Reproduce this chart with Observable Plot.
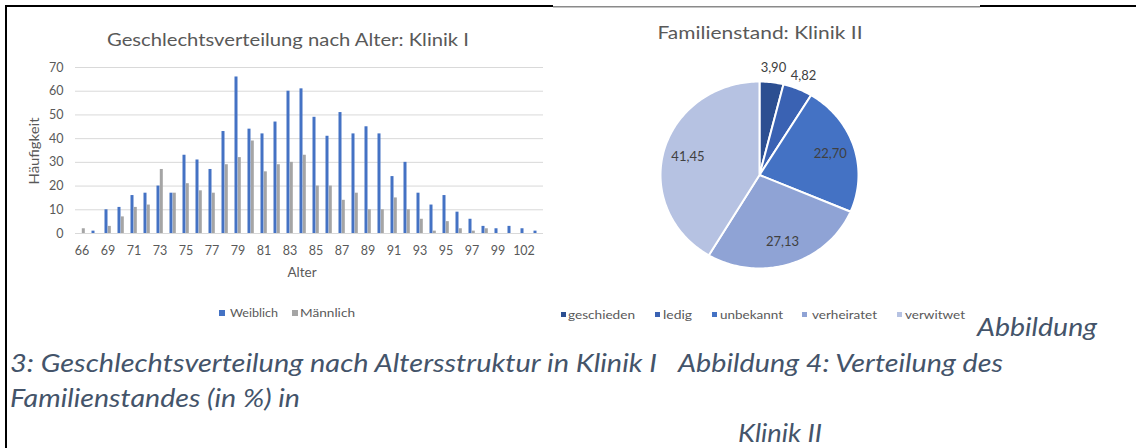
<!DOCTYPE html>
<html>
<head>
<meta charset="utf-8">
<script src="https://cdn.jsdelivr.net/npm/d3@7"></script>
<script src="https://cdn.jsdelivr.net/npm/@observablehq/plot@0.6"></script>
<style>
  html, body { margin: 0; padding: 0; background: #fff; }
  #stage { position: relative; width: 1136px; height: 448px; overflow: hidden; background: #fff; }
  #bar, #pie, #overlay { position: absolute; top: 0; }
  #bar { left: 0; }
  #pie { left: 560px; }
  #overlay { left: 0; pointer-events: none; }
</style>
</head>
<body>
<div id="stage">
  <div id="bar"></div>
  <div id="pie"></div>
  <svg id="overlay" width="1136" height="448"></svg>
</div>
<script>
// ---------- data ----------
const ages = ["66","67","69","70","71","72","73","74","75","76","77","78","79","80","81","82","83","84","85","86","87","88","89","90","91","92","93","94","95","96","97","98","99","100","102","103"];
const weiblich = [0,1,10,11,16,17,20,17,33,31,27,43,66,44,42,47,60,61,49,41,51,42,45,42,24,30,17,12,16,9,6,3,2,3,2,1];
const maennlich = [2,0,3,7,11,12,27,17,21,18,17,29,32,39,26,29,30,33,20,20,14,17,10,10,15,10,6,1,5,2,1,2,0,0,0,0];
const yTicks = [0,10,20,30,40,50,60,70];
const seriesNames = ["Weiblich","Männlich"];

const famCategories = ["geschieden","ledig","unbekannt","verheiratet","verwitwet"];
const famValues = [3.90, 4.82, 22.70, 27.13, 41.45];

// ---------- styles ----------
const barColors = ["#4472c4", "#a5a5a5"];
const famColors = ["#2c4f91", "#3a62b3", "#4472c4", "#8fa3d5", "#b6c2e2"];
const grayText = "#595959";

// ---------- bar chart ----------
const rowsW = ages.map((a, i) => ({age: a, value: weiblich[i]}));
const rowsM = ages.map((a, i) => ({age: a, value: maennlich[i]}));

const barPlot = Plot.plot({
  width: 560, height: 290,
  marginLeft: 75, marginRight: 17, marginTop: 67, marginBottom: 57,
  style: {fontFamily: "Lato", fontSize: "12.5px", color: grayText, background: "transparent", overflow: "visible"},
  x: {domain: ages, padding: 0, label: null},
  y: {domain: [0, 70], label: null},
  marks: [
    Plot.gridY(yTicks, {stroke: "#d9d9d9", strokeOpacity: 1}),
    Plot.barY(rowsW, {x: "age", y: "value", fill: barColors[0], insetLeft: 3.5, insetRight: 6.5}),
    Plot.barY(rowsM, {x: "age", y: "value", fill: barColors[1], insetLeft: 6.8, insetRight: 3.2}),
    Plot.axisX({ticks: ages.filter((d, i) => i % 2 === 0), tickSize: 0, tickPadding: 13, label: null, fill: grayText}),
    Plot.axisY({ticks: yTicks, tickSize: 0, tickPadding: 12, label: null, fill: grayText})
  ]
});
document.getElementById("bar").appendChild(barPlot);

// ---------- pie chart ----------
const arcs = d3.pie().sort(null).value(d => d)(famValues);
const wedgeMarks = arcs.map((a, i) => {
  const n = Math.max(2, Math.ceil((a.endAngle - a.startAngle) / 0.02));
  const pts = [{x: 0, y: 0}];
  for (let j = 0; j <= n; j++) {
    const t = a.startAngle + (a.endAngle - a.startAngle) * j / n;
    pts.push({x: Math.sin(t), y: Math.cos(t)});
  }
  pts.push({x: 0, y: 0});
  return Plot.line(pts, {x: "x", y: "y", fill: famColors[i], stroke: "white", strokeWidth: 2, strokeLinejoin: "round", curve: "linear"});
});
const labelRows = arcs.map((a, i) => {
  const mid = (a.startAngle + a.endAngle) / 2;
  const r = famValues[i] < 5 ? 1.15 : 0.75;
  return {x: r * Math.sin(mid), y: r * Math.cos(mid), text: famValues[i].toFixed(2).replace(".", ",")};
});

const piePlot = Plot.plot({
  width: 420, height: 300,
  marginLeft: 100, marginRight: 122, marginTop: 81, marginBottom: 32,
  style: {fontFamily: "Lato", fontSize: "12px", background: "transparent", overflow: "visible"},
  x: {domain: [-1, 1], axis: null},
  y: {domain: [-1, 1], axis: null},
  marks: [
    ...wedgeMarks,
    Plot.text(labelRows, {x: "x", y: "y", text: "text", fill: "#404040", fontSize: 13})
  ]
});
document.getElementById("pie").appendChild(piePlot);

// ---------- overlay: frame, titles, legends, captions ----------
const ov = d3.select("#overlay");
ov.append("rect").attr("x", 5).attr("y", 5).attr("width", 548).attr("height", 2).attr("fill", "#000");
ov.append("rect").attr("x", 980).attr("y", 5).attr("width", 156).attr("height", 2).attr("fill", "#000");
ov.append("rect").attr("x", 553).attr("y", 6).attr("width", 427).attr("height", 1.5).attr("fill", "#8a8a8a");
ov.append("rect").attr("x", 5).attr("y", 5).attr("width", 2).attr("height", 443).attr("fill", "#000");

function txt(s, x, y, o = {}) {
  const t = ov.append("text").attr("x", x).attr("y", y).text(s)
    .attr("font-family", o.family || "Lato")
    .attr("font-size", o.size || 12)
    .attr("fill", o.fill || grayText)
    .attr("text-anchor", o.anchor || "start");
  if (o.italic) t.attr("font-style", "italic");
  if (o.len) t.attr("textLength", o.len).attr("lengthAdjust", "spacingAndGlyphs");
  if (o.rotate) t.attr("transform", `rotate(${o.rotate},${x},${y})`);
  return t;
}

// chart titles
txt("Geschlechtsverteilung nach Alter: Klinik I", 288, 46, {size: 17, anchor: "middle", len: 362});
txt("Familienstand: Klinik II", 760, 39, {size: 17, anchor: "middle", len: 205});

// axis titles
txt("Häufigkeit", 39, 151, {size: 13, anchor: "middle", rotate: -90, len: 67});
txt("Alter", 302, 277, {size: 13.5, anchor: "middle"});

// bar legend
const barLegendX = [[219, 230], [292, 300]];
seriesNames.forEach((s, i) => {
  ov.append("rect").attr("x", barLegendX[i][0]).attr("y", 310).attr("width", 6).attr("height", 6).attr("fill", barColors[i]);
  txt(s, barLegendX[i][1], 317, {size: 12, len: i === 0 ? 48 : 55});
});

// pie legend
const pieLegendX = [[561, 568, 67], [655, 663, 29], [712, 720, 63], [802, 812, 65], [897, 905, 60]];
famCategories.forEach((s, i) => {
  ov.append("rect").attr("x", pieLegendX[i][0]).attr("y", 312).attr("width", 5).attr("height", 5).attr("fill", famColors[i]);
  txt(s, pieLegendX[i][1], 319, {size: 12, len: pieLegendX[i][2]});
});

// captions
const capStyle = {size: 25, italic: true, fill: "#44546a"};
txt("Abbildung", 977, 336, {...capStyle, len: 120});
txt("3: Geschlechtsverteilung nach Altersstruktur in Klinik I", 10, 372, {...capStyle, len: 647});
txt("Abbildung 4: Verteilung des", 678, 372, {...capStyle, len: 325});
txt("Familienstandes (in %) in", 10, 407, {...capStyle, len: 290});
txt("Klinik II", 738, 442, {...capStyle, len: 84});
</script>
</body>
</html>
